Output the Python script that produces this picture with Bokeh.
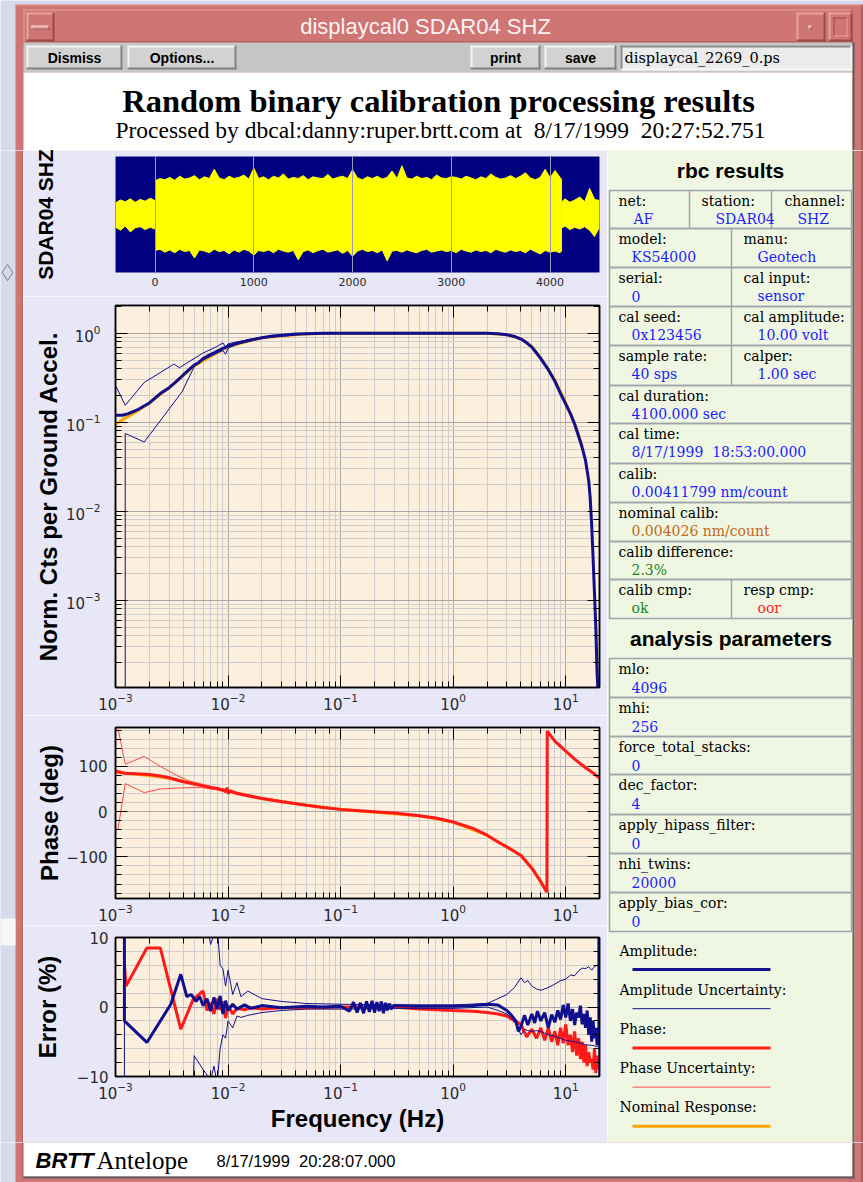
from bokeh.plotting import figure
from bokeh.models import Range1d, LogAxis, LinearAxis, SingleIntervalTicker, CustomJSTickFormatter
from bokeh.layouts import column, row
from bokeh.core.properties import value
from bokeh.embed import file_html
from bokeh.resources import INLINE

# ---------------------------------------------------------------- data
# calibration time series (seconds, normalised counts): envelope of the trace
ts_pre_time = [-400, -350, -300, -250, -200, -150, -100, -50, 0]
ts_pre_upper = [0.2, 0.25, 0.22, 0.27, 0.21, 0.26, 0.23, 0.28, 0.24]
ts_pre_lower = [-0.22, -0.27, -0.2, -0.3, -0.23, -0.21, -0.26, -0.22, -0.25]

ts_main_time = [0, 50, 100, 150, 200, 250, 300, 350, 400, 450,
                500, 550, 600, 650, 700, 750, 800, 850, 900, 950,
                1000, 1050, 1100, 1150, 1200, 1250, 1300, 1350, 1400, 1450,
                1500, 1550, 1600, 1650, 1700, 1750, 1800, 1850, 1900, 1950,
                2000, 2050, 2100, 2150, 2200, 2250, 2300, 2350, 2400, 2450,
                2500, 2550, 2600, 2650, 2700, 2750, 2800, 2850, 2900, 2950,
                3000, 3050, 3100, 3150, 3200, 3250, 3300, 3350, 3400, 3450,
                3500, 3550, 3600, 3650, 3700, 3750, 3800, 3850, 3900, 3950,
                4000, 4050, 4100, 4120]
ts_main_upper = [0.58, 0.62, 0.6, 0.64, 0.59, 0.66, 0.61, 0.63, 0.67, 0.6,
                 0.65, 0.62, 0.78, 0.63, 0.6, 0.66, 0.62, 0.64, 0.68, 0.61,
                 0.8, 0.62, 0.65, 0.6, 0.66, 0.63, 0.7, 0.61, 0.64, 0.62,
                 0.67, 0.6, 0.65, 0.63, 0.62, 0.69, 0.61, 0.64, 0.66, 0.62,
                 0.77, 0.63, 0.6, 0.65, 0.62, 0.66, 0.61, 0.64, 0.75, 0.62,
                 0.84, 0.63, 0.61, 0.66, 0.62, 0.64, 0.6, 0.68, 0.63, 0.62,
                 0.65, 0.64, 0.61, 0.66, 0.63, 0.6, 0.65, 0.62, 0.7, 0.64,
                 0.61, 0.63, 0.67, 0.62, 0.66, 0.72, 0.63, 0.6, 0.64, 0.78,
                 0.63, 0.76, 0.64, 0.6]
ts_main_lower = [-0.62, -0.6, -0.65, -0.61, -0.66, -0.6, -0.64, -0.62, -0.75, -0.61,
                 -0.63, -0.66, -0.6, -0.64, -0.62, -0.68, -0.61, -0.65, -0.6, -0.63,
                 -0.7, -0.62, -0.64, -0.61, -0.66, -0.6, -0.63, -0.65, -0.62, -0.78,
                 -0.64, -0.61, -0.66, -0.62, -0.6, -0.65, -0.63, -0.61, -0.67, -0.62,
                 -0.72, -0.63, -0.6, -0.64, -0.62, -0.66, -0.61, -0.8, -0.63, -0.62,
                 -0.65, -0.61, -0.64, -0.66, -0.62, -0.6, -0.65, -0.63, -0.61, -0.64,
                 -0.62, -0.66, -0.6, -0.63, -0.65, -0.61, -0.64, -0.62, -0.66, -0.6,
                 -0.63, -0.65, -0.61, -0.64, -0.62, -0.66, -0.6, -0.64, -0.68, -0.62,
                 -0.65, -0.63, -0.66, -0.62]
ts_post_time = [4120, 4150, 4200, 4250, 4300, 4350, 4400, 4450, 4500]
ts_post_upper = [0.22, 0.27, 0.21, 0.25, 0.3, 0.22, 0.45, 0.26, 0.24]
ts_post_lower = [-0.23, -0.2, -0.26, -0.22, -0.25, -0.21, -0.27, -0.38, -0.22]

# amplitude response (Hz, normalised)
amp_freq = [0.001, 0.00115, 0.0013, 0.0016, 0.002, 0.0025, 0.003, 0.0035, 0.004, 0.0045,
            0.005, 0.0055, 0.006, 0.0065, 0.007, 0.0075, 0.008, 0.0085, 0.009, 0.0095,
            0.01, 0.012, 0.015, 0.02, 0.025, 0.03, 0.04, 0.05, 0.07, 0.1,
            0.2, 0.5, 1.0, 1.5, 2.0, 2.5, 3.0, 3.5, 4.0, 4.5,
            5.0, 6.0, 7.0, 8.0, 9.0, 10.0, 11.0, 12.0, 13.0, 14.0,
            15.0, 16.0, 16.5, 17.0, 17.5, 18.0, 18.5, 19.0, 19.3]
amp_value = [0.12, 0.12, 0.125, 0.14, 0.165, 0.21, 0.245, 0.29, 0.34, 0.39,
             0.44, 0.47, 0.52, 0.55, 0.58, 0.6, 0.63, 0.65, 0.68, 0.69,
             0.72, 0.77, 0.83, 0.89, 0.93, 0.95, 0.98, 0.99, 1.0, 1.0,
             1.0, 1.0, 1.0, 1.0, 1.0, 0.99, 0.96, 0.92, 0.86, 0.78,
             0.7, 0.52, 0.39, 0.29, 0.21, 0.16, 0.125, 0.095, 0.07, 0.052,
             0.037, 0.022, 0.014, 0.007, 0.003, 0.0012, 0.0005, 0.00015, 0.0001]
amp_unc_up_freq = [0.001, 0.00122, 0.0018, 0.0033, 0.0037, 0.0045, 0.006, 0.008,
                   0.009, 0.0095, 0.01, 0.012, 0.02, 0.05, 0.1, 2.0]
amp_unc_upper = [0.26, 0.155, 0.28, 0.45, 0.41, 0.48, 0.6, 0.71,
                 0.78, 0.7, 0.76, 0.8, 0.9, 1.0, 1.01, 1.01]
amp_unc_lo_freq = [0.00122, 0.00122, 0.0018, 0.0039, 0.005, 0.006, 0.008, 0.009,
                   0.0095, 0.01, 0.012, 0.02, 0.05, 0.1, 2.0]
amp_unc_lower = [0.0001, 0.075, 0.06, 0.22, 0.42, 0.5, 0.6, 0.64,
                 0.58, 0.68, 0.75, 0.88, 0.98, 0.99, 0.99]
nom_freq = [0.001, 0.0012, 0.0015, 0.002, 0.003, 0.005, 0.01, 0.02, 0.05, 0.1,
            2.0, 3.0, 4.0, 5.0, 6.0, 8.0, 10.0, 12.0, 14.0]
nom_amp = [0.095, 0.11, 0.13, 0.165, 0.245, 0.43, 0.71, 0.89, 0.99, 1.0,
           1.0, 0.96, 0.87, 0.71, 0.53, 0.3, 0.165, 0.098, 0.054]

# phase response (Hz, degrees)
ph_freq = [0.001, 0.0012, 0.0015, 0.002, 0.0025, 0.003, 0.0035, 0.004, 0.005, 0.006,
           0.007, 0.008, 0.009, 0.0095, 0.0098, 0.01, 0.0105, 0.012, 0.015, 0.02,
           0.03, 0.05, 0.07, 0.1, 0.2, 0.3, 0.5, 0.7, 1.0, 1.5,
           2.0, 2.5, 3.0, 4.0, 5.0, 6.0, 6.8, 6.85, 8.0, 10.0,
           12.0, 15.0, 18.0, 19.8]
ph_value = [90, 85, 84, 82, 79, 75, 70, 66, 61, 57,
            53, 51, 48, 44, 53, 40, 46, 40, 35, 29,
            22, 14, 9, 5, 0, -3, -9, -14, -23, -37,
            -52, -67, -78, -97, -125, -155, -178, 178, 156, 134,
            116, 97, 83, 75]
ph_unc_freq = [0.00105, 0.00122, 0.0018, 0.0025, 0.0035, 0.0045, 0.006, 0.008, 0.01, 0.02, 0.05, 0.1]
ph_unc_upper = [185, 105, 122, 100, 80, 68, 60, 53, 47, 31, 15, 5]
ph_unc_lower = [-40, 62, 42, 50, 52, 53, 53, 48, 43, 29, 13, 4]
ph_nom_freq = [0.001, 0.002, 0.003, 0.005, 0.01, 0.02, 0.05, 0.1, 0.5, 1.0, 2.0, 3.0, 4.0, 5.0, 6.0, 6.8]
ph_nom_value = [87, 80, 74, 62, 45, 29, 14, 5, -9, -23, -52, -78, -97, -125, -155, -178]

# errors (Hz, percent)
err_amp_freq = [0.0012, 0.0012, 0.0019, 0.0031, 0.0038, 0.0043, 0.0047, 0.0052, 0.0056, 0.006,
                0.0065, 0.007, 0.0075, 0.008, 0.0085, 0.009, 0.0095, 0.01, 0.011, 0.012,
                0.014, 0.016, 0.02, 0.03, 0.05, 0.07, 0.1, 0.12, 0.13, 0.14,
                0.15, 0.16, 0.17, 0.18, 0.19, 0.2, 0.21, 0.22, 0.23, 0.24,
                0.25, 0.26, 0.27, 0.28, 0.3, 0.5, 1.0, 1.5, 2.0, 2.5,
                3.0, 3.3, 3.6, 3.8, 4.0, 4.3, 4.6, 5.0, 5.3, 5.6,
                6.0, 6.5, 7.0, 7.5, 8.0, 8.5, 9.0, 9.5, 10.0, 10.5,
                11.0, 11.5, 12.0, 12.5, 13.0, 13.5, 14.0, 14.5, 15.0, 15.5,
                16.0, 16.5, 17.0, 17.5, 18.0, 18.5, 19.0, 19.5, 19.7, 19.7]
err_amp = [10, -2, -5.1, 0.4, 4.7, 1.5, 1.8, 0.8, 1.5, 0.2,
           1.2, -0.6, 1.4, -0.3, 1.6, -1.0, 0.9, -0.5, 0.4, -0.3,
           0.3, -0.2, 0.2, -0.1, 0.1, 0.0, 0.1, -0.6, 0.7, -0.8,
           0.6, -0.9, 0.8, -0.7, 0.9, -0.8, 0.7, -0.6, 0.8, -0.9,
           0.6, -0.5, 0.5, -0.3, 0.2, 0.1, 0.1, 0.2, 0.4, 0.3,
           -0.5, -1.2, -2.0, -3.5, -2.8, -1.2, -2.6, -1.0, -2.3, -0.6,
           -2.0, -0.8, -3.0, -1.1, -2.2, -0.5, -1.8, 0.3, -1.5, 0.5,
           -2.0, -0.3, -2.6, -0.8, -1.5, 0.2, -2.5, -1.0, -3.0, -0.5,
           -4.0, -1.5, -5.0, -2.0, -4.5, -3.0, -5.5, -5.0, -5.0, 10]
err_ph_freq = [0.0012, 0.00124, 0.0019, 0.0025, 0.0038, 0.0049, 0.006, 0.0065, 0.007, 0.0075,
               0.008, 0.0085, 0.009, 0.0095, 0.01, 0.011, 0.012, 0.014, 0.016, 0.02,
               0.03, 0.05, 0.1, 0.3, 0.5, 1.0, 1.5, 2.0, 2.5, 3.0,
               3.5, 4.0, 4.5, 5.0, 5.5, 6.0, 6.5, 7.0, 7.5, 8.0,
               8.5, 9.0, 9.5, 10.0, 10.5, 11.0, 11.5, 12.0, 12.5, 13.0,
               13.5, 14.0, 14.5, 15.0, 15.5, 16.0, 16.5, 17.0, 17.5, 18.0,
               18.5, 19.0, 19.5]
err_ph = [6.2, 3.0, 8.5, 8.5, -3.2, 1.1, 2.3, -0.5, 0.6, -1.0,
          1.2, -0.4, 0.8, -1.6, 0.2, -1.0, -0.2, -0.4, -0.1, -0.3,
          -0.1, -0.1, 0.0, 0.0, -0.3, -0.5, -0.6, -0.8, -1.0, -1.3,
          -2.0, -2.5, -4.3, -3.2, -4.5, -3.0, -4.8, -3.0, -5.0, -3.5,
          -5.5, -3.0, -5.2, -2.5, -5.5, -4.0, -6.5, -3.5, -7.0, -4.5,
          -7.5, -5.0, -8.0, -5.5, -8.5, -6.5, -8.0, -7.5, -9.0, -6.0,
          -9.5, -7.0, -9.0]
env_freq = [0.0012, 0.0012, 0.0045, 0.005, 0.006, 0.007, 0.0075, 0.008, 0.0085, 0.009,
            0.0095, 0.01, 0.011, 0.012, 0.013, 0.015, 0.02, 0.03, 0.05, 0.1,
            0.3, 1.0, 2.0, 2.5, 3.0, 3.5, 4.0, 4.3, 4.6, 5.0,
            5.5, 6.0, 7.0, 8.0, 9.0, 10.0, 11.0, 12.0, 13.0, 14.0,
            15.0, 16.0, 17.0, 18.0, 19.0, 19.7, 19.7]
env_upper = [-30, 30, 30, 12, 15, 9, 10.5, 12, 6, 5.5,
             3.0, 5.3, 1.8, 3.5, 1.5, 2.3, 1.2, 0.8, 0.5, 0.4,
             0.3, 0.3, 0.5, 1.2, 1.8, 2.8, 4.2, 3.5, 3.8, 3.0,
             2.6, 2.4, 2.8, 3.3, 3.8, 4.0, 4.6, 4.5, 5.2, 5.6,
             5.5, 5.8, 5.3, 5.8, 6.0, 6.0, 10.5]
env_lower = [-30, -30, -30, -7, -9, -10.5, -8.5, -11, -6, -4,
             -4.5, -2.0, -3.0, -1.3, -1.5, -1.2, -0.8, -0.5, -0.3, -0.3,
             -0.2, -0.2, 0.0, -0.5, -1.0, -2.0, -4.0, -3.2, -3.4, -3.5,
             -3.4, -3.5, -4.0, -4.2, -4.5, -4.8, -4.9, -5.0, -5.1, -5.3,
             -5.4, -5.5, -5.5, -5.6, -5.7, -5.8, -10.5]

# texts of the result panel
NB = "\u00a0"
rbc_cells = [
    [("net:", "AF"), ("station:", "SDAR04"), ("channel:", "SHZ")],
    [("model:", "KS54000"), ("manu:", "Geotech")],
    [("serial:", "0"), ("cal input:", "sensor")],
    [("cal seed:", "0x123456"), ("cal amplitude:", "10.00 volt")],
    [("sample rate:", "40 sps"), ("calper:", "1.00 sec")],
    [("cal duration:", "4100.000 sec")],
    [("cal time:", "8/17/1999" + NB + " 18:53:00.000")],
    [("calib:", "0.00411799 nm/count")],
    [("nominal calib:", "0.004026 nm/count")],
    [("calib difference:", "2.3%")],
    [("calib cmp:", "ok"), ("resp cmp:", "oor")],
]
param_names = ["mlo:", "mhi:", "force_total_stacks:", "dec_factor:",
               "apply_hipass_filter:", "nhi_twins:", "apply_bias_cor:"]
param_values = ["4096", "256", "0", "4", "0", "20000", "0"]
legend_names = ["Amplitude:", "Amplitude Uncertainty:", "Phase:",
                "Phase Uncertainty:", "Nominal Response:"]
window_title = "displaycal0 SDAR04 SHZ"
main_title = "Random binary calibration processing results"
sub_title = "Processed by dbcal:danny:ruper.brtt.com at" + NB + " 8/17/1999" + NB + " 20:27:52.751"
footer_time = "8/17/1999" + NB + " 20:28:07.000"
freq_label = "Frequency (Hz)"

# ---------------------------------------------------------------- styles
LAV = "#e7e7f7"
PEACH = "#fdefdd"
GREEN = "#eff7e3"
PINK = "#cf7573"
PINK_L = "#e8a4a0"
PINK_D = "#9c4a48"
DESK = "#d9d9ec"
NAVY = "#10108e"
RED = "#ff1a1a"
RED_T = "#ff4a4a"
ORANGE = "#ffa500"
BLUE_TXT = "#1c1cff"
GRID_MAJ = "#a8a8a8"
GRID_MIN = "#cdcdcd"
EDGE = "#5e5e5e"


def decor(x0, x1, y0, y1, bg):
    p = figure(width=x1 - x0, height=y1 - y0, x_range=Range1d(x0, x1), y_range=Range1d(y1, y0),
               x_axis_location=None, y_axis_location=None, title=None, tools="",
               toolbar_location=None, output_backend="svg", min_border=0,
               background_fill_color=bg, border_fill_color=bg, outline_line_color=None)
    p.grid.visible = False
    return p


def box(p, x0, y0, x1, y1, color):
    p.quad(left=x0, right=x1, top=y0, bottom=y1, fill_color=color, line_color=None)


def bevel(p, x0, y0, x1, y1, face, light, dark, w=2):
    box(p, x0, y0, x1, y1, face)
    box(p, x0, y0, x1, y0 + w, light)
    box(p, x0, y0, x0 + w, y1, light)
    box(p, x0, y1 - w, x1, y1, dark)
    box(p, x1 - w, y0, x1, y1, dark)


def txt(p, xs, ys, texts, font, size, color="black", align="left", style="normal"):
    p.text(x=xs, y=ys, text=texts, text_font=value(font), text_font_size=size,
           text_color=color, text_align=align, text_baseline="middle", text_font_style=style)


BLANK = CustomJSTickFormatter(code="return '';")
MINUS = CustomJSTickFormatter(code="return tick < 0 ? '\u2212' + (-tick) : String(tick);")


def style_axis(ax, labels=True, size="15px", standoff=5):
    ax.axis_line_color = "black"
    ax.axis_line_width = 1.5
    ax.major_tick_in = 12
    ax.major_tick_out = 0
    ax.minor_tick_in = 6
    ax.minor_tick_out = 0
    ax.major_tick_line_color = "black"
    ax.minor_tick_line_color = "black"
    ax.major_label_text_font = "DejaVu Sans"
    ax.major_label_text_color = "#2a2a2a"
    if labels:
        ax.major_label_text_font_size = size
        ax.major_label_standoff = standoff
    else:
        ax.formatter = BLANK
        ax.major_label_text_font_size = "1px"
        ax.major_label_standoff = 0
    ax.axis_label_text_font = "Liberation Sans"
    ax.axis_label_text_font_style = "bold"
    ax.axis_label_text_font_size = "24px"
    ax.axis_label_text_color = "black"


def freq_plot(height, top, bottom, y_type, y_range, ylabel, ystandoff, lab_standoff, yticker=None):
    p = figure(width=584, height=height, x_axis_type="log", y_axis_type=y_type,
               x_range=Range1d(0.001, 19.95), y_range=y_range, title=None, tools="",
               toolbar_location=None, output_backend="svg",
               min_border_left=92, min_border_right=8, min_border_top=top, min_border_bottom=bottom,
               background_fill_color=PEACH, border_fill_color=LAV,
               outline_line_color="black", outline_line_width=1.5)
    if yticker is not None:
        p.yaxis.ticker = yticker
        p.ygrid.ticker = yticker
        p.yaxis.formatter = MINUS
    bottom_ax = p.below[0]
    left_ax = p.left[0]
    style_axis(bottom_ax)
    style_axis(left_ax, standoff=lab_standoff)
    left_ax.axis_label = ylabel
    left_ax.axis_label_standoff = ystandoff
    top_ax = LogAxis()
    style_axis(top_ax, labels=False)
    p.add_layout(top_ax, "above")
    right_ax = LogAxis() if y_type == "log" else LinearAxis(ticker=yticker)
    style_axis(right_ax, labels=False)
    p.add_layout(right_ax, "right")
    for g in (p.xgrid, p.ygrid):
        g.grid_line_color = GRID_MAJ
        g.minor_grid_line_color = GRID_MIN
    return p


# ---------------------------------------------------------------- header (window chrome)
hd = decor(0, 863, 0, 150, DESK)
box(hd, 15, 4, 863, 150, PINK)
box(hd, 15, 4, 863, 5, PINK_L)
bevel(hd, 23, 9, 852, 42, PINK, PINK_L, PINK_D, 1)
bevel(hd, 26, 12, 54, 41, PINK, PINK_L, PINK_D, 2)
bevel(hd, 31, 25, 49, 29, PINK_L, "#f4d0cc", PINK_D, 1)
bevel(hd, 796, 12, 825, 41, PINK, PINK_L, PINK_D, 2)
bevel(hd, 808, 25, 812, 29, PINK_L, "#f4d0cc", PINK_D, 1)
bevel(hd, 828, 12, 852, 41, PINK, PINK_L, PINK_D, 2)
bevel(hd, 833, 17, 847, 36, PINK, PINK_D, PINK_L, 1)
txt(hd, [425], [26], [window_title], "Liberation Sans", "22px", "#fbf3f3", "center")
box(hd, 23, 42, 852, 72, "#c6c6c6")
for (bx0, bx1) in [(26, 122), (127, 236), (470, 540), (544, 616)]:
    bevel(hd, bx0, 45, bx1, 69, "#d2d2d2", "#f2f2f2", "#808080", 2)
txt(hd, [74, 181.5, 505, 580], [57, 57, 57, 57], ["Dismiss", "Options...", "print", "save"],
    "Liberation Sans", "14px", "black", "center", "bold")
bevel(hd, 620, 45, 852, 70, "#ebebeb", "#8a8a8a", "#f6f6f6", 2)
txt(hd, [624], [57], ["displaycal_2269_0.ps"], "DejaVu Serif", "14.5px")
box(hd, 23, 72, 852, 150, "white")
box(hd, 852, 42, 854, 150, EDGE)
box(hd, 861, 4, 862, 150, PINK_D)
txt(hd, [438], [100], [main_title], "Liberation Serif", "32.5px", "black", "center", "bold")
txt(hd, [440], [129], [sub_title], "Liberation Serif", "23.5px", "black", "center")

# ---------------------------------------------------------------- left strip
ls = decor(0, 23, 150, 1142, DESK)
box(ls, 15, 150, 23, 1142, PINK)
box(ls, 22, 150, 23, 1142, PINK_D)
box(ls, 0, 918, 15, 945, "#f6f6f6")
ls.scatter([7], [272], marker="diamond", size=16, fill_color=DESK, line_color="#7a7a8a")

# ---------------------------------------------------------------- time series
ts = figure(width=584, height=146, x_range=Range1d(-400, 4500), y_range=Range1d(-1, 1),
            title=None, tools="", toolbar_location=None, output_backend="svg",
            min_border_left=92, min_border_right=8, min_border_top=6, min_border_bottom=24,
            background_fill_color="#000080", border_fill_color=LAV, outline_line_color=None)
for (tt, up, lo) in [(ts_pre_time, ts_pre_upper, ts_pre_lower),
                     (ts_main_time, ts_main_upper, ts_main_lower),
                     (ts_post_time, ts_post_upper, ts_post_lower)]:
    ts.varea(x=tt, y1=lo, y2=up, fill_color="#ffff00")
    ts.line(tt, up, color="#ffff00", line_width=1)
    ts.line(tt, lo, color="#ffff00", line_width=1)
tk_ts = SingleIntervalTicker(interval=1000, num_minor_ticks=0)
ts.xaxis.ticker = tk_ts
ts.xgrid.ticker = tk_ts
ts.xgrid.grid_line_color = "#9a9ab4"
ts.xgrid.level = "overlay"
ts.ygrid.visible = False
style_axis(ts.xaxis[0], size="11px", standoff=5)
ts.xaxis.axis_line_color = None
ts.xaxis.major_tick_line_color = None
ts.xaxis.minor_tick_line_color = None
style_axis(ts.yaxis[0], labels=False)
ts.yaxis.axis_line_color = None
ts.yaxis.major_tick_line_color = None
ts.yaxis.minor_tick_line_color = None
ts.yaxis.axis_label = "SDAR04 SHZ"
ts.yaxis.axis_label_text_font_size = "21px"
ts.yaxis.axis_label_standoff = 59

# ---------------------------------------------------------------- amplitude
amp = freq_plot(419, 9, 28, "log", Range1d(1.05e-4, 2.05), "Norm. Cts per Ground Accel.", 1, 15)
amp.line(nom_freq, nom_amp, color=ORANGE, line_width=3)
amp.line(amp_unc_up_freq, amp_unc_upper, color=NAVY, line_width=1)
amp.line(amp_unc_lo_freq, amp_unc_lower, color=NAVY, line_width=1)
amp.line(amp_freq, amp_value, color=NAVY, line_width=3)

# ---------------------------------------------------------------- phase
tk_ph = SingleIntervalTicker(interval=100, num_minor_ticks=5)
ph = freq_plot(210, 12, 27, "linear", Range1d(-192, 186), "Phase (deg)", 0, 8, tk_ph)
ph.line(ph_nom_freq, ph_nom_value, color=ORANGE, line_width=3)
ph.line(ph_unc_freq, ph_unc_upper, color=RED_T, line_width=1)
ph.line(ph_unc_freq, ph_unc_lower, color=RED_T, line_width=1)
ph.line(ph_freq, ph_value, color=RED, line_width=3)

# ---------------------------------------------------------------- error
tk_er = SingleIntervalTicker(interval=10, num_minor_ticks=5)
er = freq_plot(217, 12, 66, "linear", Range1d(-10, 10), "Error (%)", 13, 7, tk_er)
er.below[0].axis_label = freq_label
er.below[0].axis_label_standoff = 3
er.line(err_ph_freq, err_ph, color=RED, line_width=3)
er.line(env_freq, env_upper, color=NAVY, line_width=1)
er.line(env_freq, env_lower, color=NAVY, line_width=1)
er.line(err_amp_freq, err_amp, color=NAVY, line_width=3)

# ---------------------------------------------------------------- result panel
rp = decor(607, 863, 150, 1142, GREEN)
box(rp, 852, 150, 854, 1142, EDGE)
box(rp, 854, 150, 863, 1142, PINK)
box(rp, 861, 150, 862, 1142, PINK_D)
txt(rp, [730], [170], ["rbc results"], "Liberation Sans", "21px", "black", "center", "bold")

row_tops = [190, 228, 267, 306, 345, 385, 423, 463, 502, 541, 579, 618]
col_x = {3: [609, 689, 771], 2: [609, 731], 1: [609]}
lab_dx = {3: [9, 12, 13], 2: [9, 12], 1: [9]}
val_dx = {3: [24, 26, 26], 2: [22, 26], 1: [22]}
TL = 609
TR = 851
lx, ly, lt = [], [], []
vx, vy, vt, vc = [], [], [], []
for i, cells in enumerate(rbc_cells):
    y0, y1 = row_tops[i], row_tops[i + 1]
    rp.quad(left=TL, right=TR, top=y0, bottom=y1, fill_color=None, line_color="#9ea4ac", line_width=1.5)
    n = len(cells)
    for j, (lab, val) in enumerate(cells):
        cx = col_x[n][j]
        if j > 0:
            rp.segment(x0=cx, y0=y0, x1=cx, y1=y1, line_color="#9ea4ac", line_width=1.5)
        lx.append(cx + lab_dx[n][j]); ly.append(y0 + 10.5); lt.append(lab)
        vx.append(cx + val_dx[n][j]); vy.append(y0 + 28.5); vt.append(val)
        if lab == "nominal calib:":
            vc.append("#c2681a")
        elif lab in ("calib difference:", "calib cmp:"):
            vc.append("#1a8a1a")
        elif lab == "resp cmp:":
            vc.append("#ff2020")
        else:
            vc.append(BLUE_TXT)
txt(rp, [730.5], [638], ["analysis parameters"], "Liberation Sans", "21px", "black", "center", "bold")
p_tops = [658, 697, 736, 774, 814, 853, 892, 931]
for i, (lab, val) in enumerate(zip(param_names, param_values)):
    y0, y1 = p_tops[i], p_tops[i + 1]
    rp.quad(left=TL, right=TR, top=y0, bottom=y1, fill_color=None, line_color="#9ea4ac", line_width=1.5)
    lx.append(618); ly.append(y0 + 10.5); lt.append(lab)
    vx.append(631); vy.append(y0 + 28.5); vt.append(val); vc.append(BLUE_TXT)
txt(rp, lx, ly, lt, "DejaVu Serif", "14px", "black")
rp.text(x=vx, y=vy, text=vt, text_color=vc, text_font=value("DejaVu Serif"),
        text_font_size="14px", text_baseline="middle", text_align="left")

leg_colors = [NAVY, NAVY, RED, RED_T, ORANGE]
leg_widths = [3, 1, 3, 1, 3]
for i, name in enumerate(legend_names):
    yl = 950 + 39.2 * i
    txt(rp, [619], [yl], [name], "DejaVu Serif", "14px", "black")
    rp.segment(x0=632, y0=yl + 19, x1=770, y1=yl + 19, line_color=leg_colors[i], line_width=leg_widths[i])

# ---------------------------------------------------------------- footer
ft = decor(0, 863, 1142, 1182, DESK)
box(ft, 15, 1142, 863, 1182, PINK)
box(ft, 22, 1142, 23, 1178, PINK_D)
box(ft, 23, 1142, 852, 1176, "white")
box(ft, 23, 1176, 854, 1178, EDGE)
box(ft, 852, 1142, 854, 1178, EDGE)
box(ft, 861, 1142, 862, 1182, PINK_D)
txt(ft, [35], [1160], ["BRTT"], "Liberation Sans", "22px", "black", "left", "bold italic")
txt(ft, [96], [1160], ["Antelope"], "Liberation Serif", "25px", "black")
txt(ft, [216], [1160], [footer_time], "Liberation Sans", "16.5px", "black")

layout = column(hd, row(ls, column(ts, amp, ph, er), rp), ft)
open("out.html", "w").write(file_html(layout, INLINE, window_title))
